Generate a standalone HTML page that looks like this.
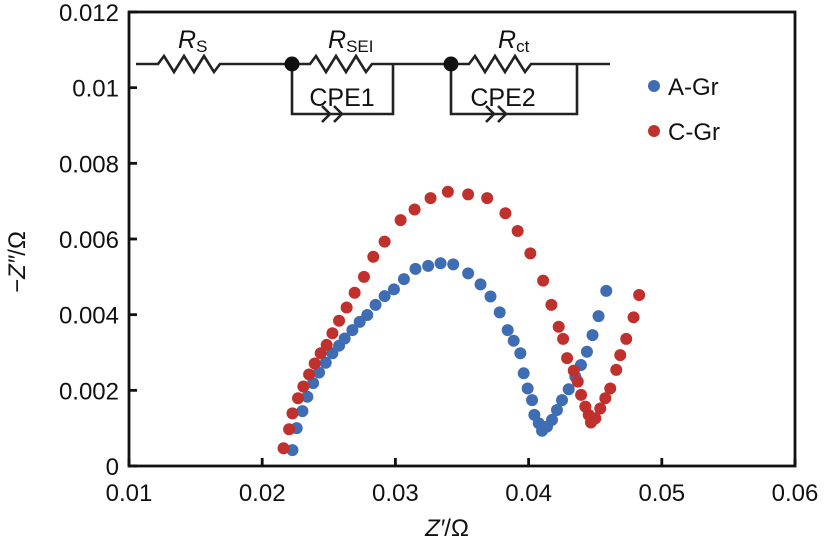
<!DOCTYPE html>
<html><head><meta charset="utf-8"><style>
body{margin:0;background:#fff}
svg{display:block;font-family:"Liberation Sans",Arial,sans-serif}
</style></head><body>
<svg id="chart" width="827" height="543" viewBox="0 0 827 543">
<g id="axes"></g>
<g id="circuit" stroke="#222" stroke-width="2.6" fill="none">
  <path d="M136 64 H158 l6 -8 l10 16 l10 -16 l10 16 l10 -16 l10 16 l6 -8 H292 V114 H393 V64 M292 64 H310 l6 -8 l10 16 l10 -16 l10 16 l10 -16 l10 16 l6 -8 H451 V114 H577 V64 M451 64 H469 l6 -8 l10 16 l10 -16 l10 16 l10 -16 l10 16 l6 -8 H610"/>
  <path d="M322 106 l8 8 l-8 8 M334 106 l8 8 l-8 8"/>
  <path d="M486 106 l8 8 l-8 8 M498 106 l8 8 l-8 8"/>
  <circle cx="292" cy="64" r="7.5" fill="#111" stroke="none"/>
  <circle cx="451" cy="64" r="7.5" fill="#111" stroke="none"/>
  <g stroke="none" fill="#111" font-size="25">
    <text x="178" y="48" font-style="italic">R<tspan font-style="normal" font-size="17" dy="4">S</tspan></text>
    <text x="328" y="48" font-style="italic">R<tspan font-style="normal" font-size="17" dy="4">SEI</tspan></text>
    <text x="498" y="48" font-style="italic">R<tspan font-style="normal" font-size="17" dy="4">ct</tspan></text>
    <text x="342" y="106" text-anchor="middle">CPE1</text>
    <text x="503" y="106" text-anchor="middle">CPE2</text>
  </g>
</g>
<g id="legend" font-size="24" fill="#111">
  <g><circle cx="654" cy="86" r="6" fill="#3f6db4"/><text x="668" y="95">A-Gr</text></g>
  <g><circle cx="654" cy="131" r="6" fill="#c0302c"/><text x="668" y="140">C-Gr</text></g>
</g>
<g id="series"></g>
</svg>
<script>
const xTicks=[0.01,0.02,0.03,0.04,0.05,0.06];
const xTickLabels=["0.01","0.02","0.03","0.04","0.05","0.06"];
const yTicks=[0,0.002,0.004,0.006,0.008,0.01,0.012];
const yTickLabels=["0","0.002","0.004","0.006","0.008","0.01","0.012"];
const aGrX=[0.02227,0.02259,0.02302,0.02339,0.02382,0.02427,0.02477,0.02527,0.02577,0.02619,0.02677,0.02732,0.02789,0.02851,0.02919,0.02989,0.03064,0.03151,0.03246,0.03339,0.03434,0.03546,0.03639,0.03714,0.03783,0.03843,0.03888,0.03938,0.03963,0.03993,0.04026,0.04043,0.04076,0.04101,0.04138,0.04176,0.04213,0.04251,0.04301,0.04351,0.04393,0.04438,0.04480,0.04525,0.04583];
const aGrY=[0.00042,0.00100,0.00145,0.00183,0.00219,0.00247,0.00273,0.00298,0.00318,0.00337,0.00359,0.00381,0.00399,0.00426,0.00449,0.00467,0.00494,0.00521,0.00529,0.00536,0.00533,0.00509,0.00480,0.00448,0.00406,0.00359,0.00331,0.00298,0.00245,0.00205,0.00174,0.00135,0.00113,0.00093,0.00104,0.00122,0.00148,0.00174,0.00203,0.00236,0.00267,0.00302,0.00346,0.00396,0.00463];
const cGrX=[0.02160,0.02202,0.02227,0.02269,0.02309,0.02352,0.02394,0.02439,0.02484,0.02527,0.02577,0.02634,0.02694,0.02764,0.02834,0.02919,0.03039,0.03144,0.03264,0.03394,0.03546,0.03689,0.03826,0.03918,0.04013,0.04109,0.04171,0.04226,0.04259,0.04289,0.04339,0.04369,0.04394,0.04426,0.04451,0.04468,0.04501,0.04538,0.04576,0.04613,0.04658,0.04688,0.04733,0.04788,0.04830];
const cGrY=[0.00047,0.00097,0.00139,0.00179,0.00210,0.00242,0.00271,0.00298,0.00320,0.00351,0.00384,0.00419,0.00458,0.00500,0.00553,0.00593,0.00650,0.00678,0.00708,0.00725,0.00718,0.00708,0.00668,0.00621,0.00562,0.00490,0.00426,0.00368,0.00336,0.00285,0.00252,0.00223,0.00188,0.00157,0.00135,0.00115,0.00126,0.00152,0.00179,0.00205,0.00254,0.00293,0.00336,0.00393,0.00452];

const NS="http://www.w3.org/2000/svg";
const L=129,R=795,T=12,B=466;
const sx=v=>L+(v-0.01)/0.05*(R-L);
const sy=v=>B-v/0.012*(B-T);
function mk(tag,attrs,parent,text){const e=document.createElementNS(NS,tag);for(const k in attrs)e.setAttribute(k,attrs[k]);if(text!==undefined)e.textContent=text;parent.appendChild(e);return e;}
const ax=document.getElementById('axes');
const frame=mk('rect',{x:L,y:T,width:R-L,height:B-T,fill:'none',stroke:'#111','stroke-width':2.8},ax);


xTicks.forEach((v,i)=>{
  const t=mk('line',{x1:sx(v),x2:sx(v),y1:B,y2:B-8,stroke:'#111','stroke-width':2.8},ax);
  
  
  const l=mk('text',{x:sx(v),y:B+35,'text-anchor':'middle','font-size':24,fill:'#111'},ax,xTickLabels[i]);
  
  
});
yTicks.forEach((v,i)=>{
  const t=mk('line',{x1:L,x2:L+8,y1:sy(v),y2:sy(v),stroke:'#111','stroke-width':2.8},ax);
  
  
  const l=mk('text',{x:L-10,y:sy(v)+9,'text-anchor':'end','font-size':24,fill:'#111'},ax,yTickLabels[i]);
  
  
});
const xt=mk('text',{x:447,y:536,'text-anchor':'middle','font-size':24,fill:'#111'},ax,"");
xt.innerHTML='<tspan font-style="italic">Z′</tspan>/Ω';


const yt=mk('text',{x:0,y:0,'text-anchor':'middle','font-size':24,fill:'#111',transform:'translate(25,262) rotate(-90)'},ax,"");
yt.innerHTML='−<tspan font-style="italic">Z″</tspan>/Ω';


const sg=document.getElementById('series');
function draw(xs,ys,color,name){
  const g=mk('g',{fill:color},sg);
  
  
  xs.forEach((x,i)=>{
    const c=mk('circle',{cx:sx(x),cy:sy(ys[i]),r:6},g);
    
    
  });
}
draw(aGrX,aGrY,'#3f6db4','series-a-gr');
draw(cGrX,cGrY,'#c0302c','series-c-gr');
</script>
</body></html>
